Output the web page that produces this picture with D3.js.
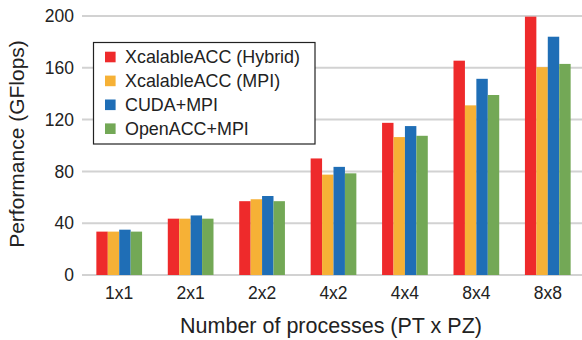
<!DOCTYPE html>
<html>
<head>
<meta charset="utf-8">
<script src="https://cdn.jsdelivr.net/npm/d3@7"></script>
<style>
  html, body { margin: 0; padding: 0; background: #fff; }
  svg { display: block; font-family: "Liberation Sans", Arial, Helvetica, sans-serif; }
</style>
</head>
<body>
<svg id="chart" width="582" height="340"></svg>
<script>
// Process grid configurations (PT x PZ)
const categories = ["1x1", "2x1", "2x2", "4x2", "4x4", "8x4", "8x8"];

// Implementation names shown in the legend
const seriesNames = ["XcalableACC (Hybrid)", "XcalableACC (MPI)", "CUDA+MPI", "OpenACC+MPI"];

// Performance in GFlops for each implementation, one value per configuration
const xaccHybrid = [33.5, 43.5, 57, 90, 117.5, 165.5, 199.5];
const xaccMpi    = [33.5, 43.5, 58.5, 77.5, 106.5, 131, 160.5];
const cudaMpi    = [35, 46, 61, 83.5, 115, 151.5, 184];
const openaccMpi = [33.5, 43.5, 57, 78.5, 107.5, 139, 163];

const seriesColors = ["#ee2a2b", "#f6b136", "#1f6eb6", "#73a856"];

const yTicks = [0, 40, 80, 120, 160, 200];

const seriesValues = [xaccHybrid, xaccMpi, cudaMpi, openaccMpi];

const svg = d3.select("#chart");
const W = 582;

const y = d3.scaleLinear().domain([0, 200]).range([275, 16]);

const x = d3.scaleBand()
  .domain(categories)
  .range([83.5, 583.5])
  .paddingInner(0.36)
  .paddingOuter(0.18);

const xInner = d3.scaleBand()
  .domain(d3.range(seriesNames.length))
  .range([0, x.bandwidth()])
  .padding(0);

// Horizontal grid lines
svg.append("g")
  .selectAll("line")
  .data(yTicks)
  .join("line")
  .attr("x1", 82)
  .attr("x2", W)
  .attr("y1", d => y(d))
  .attr("y2", d => y(d))
  .attr("stroke", "#d2d2d2")
  .attr("stroke-width", 2);

// Y tick labels
const yAxis = d3.axisLeft(y).tickValues(yTicks).tickSize(0).tickPadding(0);
const yg = svg.append("g").attr("transform", "translate(74,0)").call(yAxis);
yg.select(".domain").remove();
yg.selectAll("text")
  .attr("fill", "#222")
  .attr("font-size", 17.5)
  .attr("font-family", "'Liberation Sans', Arial, sans-serif");

// Bars
const groups = svg.append("g")
  .selectAll("g")
  .data(categories)
  .join("g")
  .attr("transform", d => `translate(${x(d)},0)`);

groups.selectAll("rect")
  .data((d, i) => seriesValues.map((vals, s) => ({ s, v: vals[i] })))
  .join("rect")
  .attr("x", d => xInner(d.s))
  .attr("width", xInner.bandwidth())
  .attr("y", d => y(d.v))
  .attr("height", d => y(0) - y(d.v))
  .attr("fill", d => seriesColors[d.s]);

// X tick labels
const xAxis = d3.axisBottom(x).tickSize(0).tickPadding(0);
const xg = svg.append("g").attr("transform", "translate(0,286.5)").call(xAxis);
xg.select(".domain").remove();
xg.selectAll("text")
  .attr("fill", "#222")
  .attr("font-size", 17.5)
  .attr("font-family", "'Liberation Sans', Arial, sans-serif")
  .attr("dy", "0.71em");

// Axis titles
svg.append("text")
  .attr("x", 331)
  .attr("y", 333)
  .attr("text-anchor", "middle")
  .attr("font-size", 21.5)
  .attr("fill", "#222")
  .text("Number of processes (PT x PZ)");

svg.append("text")
  .attr("transform", "translate(24,144) rotate(-90)")
  .attr("text-anchor", "middle")
  .attr("font-size", 21)
  .attr("fill", "#222")
  .text("Performance (GFlops)");

// Legend
const legend = svg.append("g");
legend.append("rect")
  .attr("x", 93.5)
  .attr("y", 42.5)
  .attr("width", 221.5)
  .attr("height", 101.5)
  .attr("fill", "#fff")
  .attr("stroke", "#222")
  .attr("stroke-width", 1.2);

const items = legend.selectAll("g.item")
  .data(seriesNames)
  .join("g")
  .attr("class", "item")
  .attr("transform", (d, i) => `translate(105,${57 + i * 23.9})`);

items.append("rect")
  .attr("x", 0)
  .attr("y", -5.3)
  .attr("width", 10.6)
  .attr("height", 10.6)
  .attr("fill", (d, i) => seriesColors[i]);

items.append("text")
  .attr("x", 20)
  .attr("y", 0)
  .attr("dy", "0.36em")
  .attr("font-size", 17.9)
  .attr("fill", "#222")
  .text(d => d);
</script>
</body>
</html>
